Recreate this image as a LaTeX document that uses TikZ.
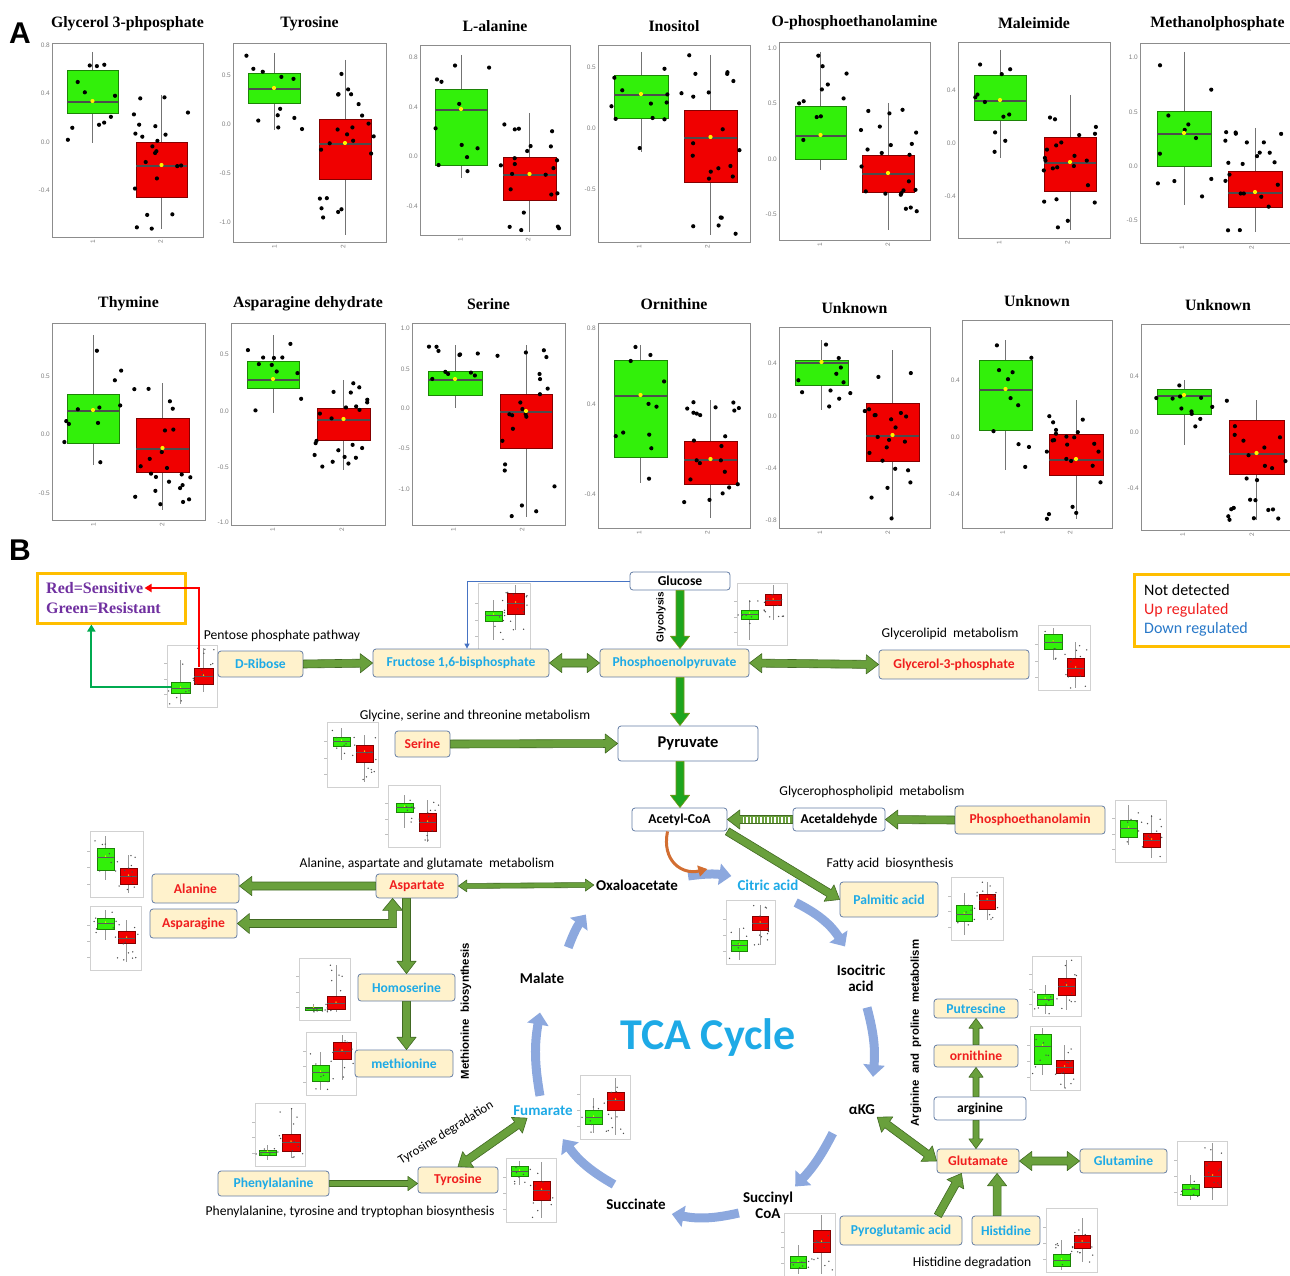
\documentclass[tikz,border=0pt]{standalone}
\usepackage{fontspec}
\setmainfont{Liberation Serif}
\newfontfamily\carl{Carlito}
\newfontfamily\ari{Liberation Sans}
\usetikzlibrary{calc,arrows.meta,positioning}

\definecolor{boxg}{RGB}{50,240,10}
\definecolor{boxr}{RGB}{240,0,0}
\definecolor{cream}{RGB}{255,242,204}
\definecolor{nodeb}{RGB}{100,125,165}
\definecolor{upred}{RGB}{240,30,30}
\definecolor{dnblue}{RGB}{30,170,230}
\definecolor{fatg}{RGB}{105,160,60}
\definecolor{fatd}{RGB}{65,105,35}
\definecolor{glyg}{RGB}{30,165,30}
\definecolor{tcab}{RGB}{140,168,222}
\definecolor{legor}{RGB}{255,190,0}
\definecolor{purp}{RGB}{112,48,160}
\definecolor{keyblue}{RGB}{40,120,200}
\definecolor{orarr}{RGB}{210,110,50}
\definecolor{linkb}{RGB}{70,115,195}
\definecolor{glegc}{RGB}{0,170,80}

\def\dotr{2.1pt}
\def\dotc{black}
% one group: whisker, box, median, jittered points, mean
\newcommand{\bxg}[9]{%
  \pgfmathsetmacro{\bxc}{(#1+#2)/2}
  \draw[whisk] (\bxc,#6) -- (\bxc,#7);
  \filldraw[fill=#8, draw=#8!55!black, line width=0.6pt] (#1,#3) rectangle (#2,#4);
  \draw[medln] (#1,#5) -- (#2,#5);
  \foreach \k in {1,...,#9}{
    \pgfmathsetmacro{\px}{#1-3+rnd*(#2-#1+6)}
    \pgfmathsetmacro{\py}{#6+rnd*(#7-#6)}
    \fill[\dotc] (\px,\py) circle[radius=\dotr];
  }
  \fill[yellow] (\bxc,#5-1) circle[radius=\dotr];
}
% panel A frame, title and axis labels
\newcommand{\apanel}[7]{%
  \draw[frm] (#2,#3) rectangle (#4,#5);
  \node[ttl] (#1) at ({(#2+#4)/2},#3-19) {#6};
  \foreach \v/\yy [count=\n] in {#7}
    \node[tck, anchor=east] (#1t\n) at (#2-1,\yy) {\v};
  \node[tck, rotate=90, anchor=east] (#1xa) at ({#2+0.27*(#4-#2)},#5+2) {1};
  \node[tck, rotate=90, anchor=east] (#1xb) at ({#2+0.72*(#4-#2)},#5+2) {2};
}
% small plot frame
\newcommand{\thumb}[4]{%
  \draw[thm] (#1,#2) rectangle (#3,#4);
  \foreach \f in {0.3,0.55,0.8}
    \draw[black!25, line width=0.4pt] (#1-3,{#2+\f*(#4-#2)}) -- (#1,{#2+\f*(#4-#2)});
}
% block arrows
\newcommand{\fatar}[3][4]{%
  \pgfmathsetmacro{\fhw}{2.4*#1}\pgfmathsetmacro{\fhl}{2.6*#1+2}
  \path ($(#3)!\fhl pt!(#2)$) coordinate (fac);
  \filldraw[fatarrow] ($(#2)!#1pt!90:(#3)$) -- ($(fac)!#1pt!90:(#3)$)
    -- ($(fac)!\fhw pt!90:(#3)$) -- (#3) -- ($(fac)!\fhw pt!-90:(#3)$)
    -- ($(fac)!#1pt!-90:(#3)$) -- ($(#2)!#1pt!-90:(#3)$) -- cycle;
}
\newcommand{\fatdbl}[3][4]{%
  \pgfmathsetmacro{\fhw}{2.4*#1}\pgfmathsetmacro{\fhl}{2.6*#1+2}
  \path ($(#3)!\fhl pt!(#2)$) coordinate (fac) ($(#2)!\fhl pt!(#3)$) coordinate (fad);
  \filldraw[fatarrow] ($(fad)!#1pt!90:(#3)$) -- ($(fac)!#1pt!90:(#3)$)
    -- ($(fac)!\fhw pt!90:(#3)$) -- (#3) -- ($(fac)!\fhw pt!-90:(#3)$)
    -- ($(fac)!#1pt!-90:(#3)$) -- ($(fad)!#1pt!-90:(#3)$) -- ($(fad)!\fhw pt!-90:(#3)$)
    -- (#2) -- ($(fad)!\fhw pt!90:(#3)$) -- cycle;
}

\begin{document}
\begin{tikzpicture}[x=1pt, y=-1pt,
  frm/.style={draw=black!45, line width=0.7pt},
  thm/.style={draw=black!18, fill=white, line width=0.5pt},
  ttl/.style={font=\rmfamily\bfseries\fontsize{15.8}{17}\selectfont},
  tck/.style={font=\ari\fontsize{6.5}{7}\selectfont, text=black!50, inner sep=1pt},
  whisk/.style={draw=black!55, line width=1pt},
  medln/.style={draw=black!70, line width=1.3pt},
  met/.style={draw=nodeb, fill=cream, rounded corners=3pt, line width=0.8pt, font=\carl\bfseries\fontsize{13.6}{15}\selectfont, inner sep=0pt},
  upmet/.style={met, text=upred},
  dnmet/.style={met, text=dnblue},
  wmet/.style={met, fill=white, text=black},
  pw/.style={font=\carl\fontsize{13.6}{15}\selectfont, inner sep=1pt},
  rot/.style={font=\ari\bfseries\fontsize{11.4}{13}\selectfont, inner sep=1pt, rotate=90},
  cyc/.style={font=\carl\bfseries\fontsize{15}{16}\selectfont, align=center, inner sep=2pt},
  legt/.style={font=\rmfamily\bfseries\fontsize{16}{18}\selectfont, text=purp, inner sep=1pt},
  keyt/.style={font=\carl\fontsize{16}{18}\selectfont, inner sep=1pt},
  legarr/.style={line width=2.2pt, -{Triangle[length=7pt,width=8pt]}},
  fatarrow/.style={fill=fatg, draw=fatd, line width=0.6pt, line join=round},
  tca/.style={draw=tcab, line width=9pt, -{Triangle[length=12pt,width=21pt]}},
  panl/.style={font=\ari\bfseries\fontsize{30}{30}\selectfont, inner sep=0pt}]
\useasboundingbox (0,0) rectangle (1290,1276);
\pgfmathsetseed{42}

%%% panel A
\node[panl] (labA) at (20,33) {A};
\apanel{a1}{52}{43}{203}{237}{Glycerol 3-phposphate}{0.8/45,0.4/93,0.0/142,-0.4/190}
\bxg{67}{118}{70}{113}{102}{52}{143}{boxg}{11}
\bxg{136}{187}{142}{197}{166}{95}{229}{boxr}{22}
\apanel{a2}{233}{43}{386}{242}{Tyrosine}{0.5/75,0.0/124,-0.5/173,-1.0/222}
\bxg{248}{300}{73}{103}{89}{53}{130}{boxg}{11}
\bxg{319}{371}{119}{179}{144}{60}{235}{boxr}{22}
\apanel{a3}{420}{45}{570}{235}{L-alanine}{0.8/57,0.4/107,0.0/156,-0.4/206}
\bxg{435}{487}{89}{165}{110}{55}{178}{boxg}{11}
\bxg{503}{556}{157}{200}{175}{113}{232}{boxr}{22}
\apanel{a4}{598}{45}{750}{242}{Inositol}{0.5/67,0.0/128,-0.5/189}
\bxg{614}{668}{75}{118}{95}{52}{152}{boxg}{11}
\bxg{684}{737}{110}{182}{138}{55}{235}{boxr}{22}
\apanel{a5}{779}{42}{930}{240}{O-phosphoethanolamine}{1.0/48,0.5/103,0.0/159,-0.5/214}
\bxg{795}{846}{106}{159}{136}{52}{170}{boxg}{11}
\bxg{862}{914}{155}{192}{174}{103}{230}{boxr}{22}
\apanel{a6}{958}{42}{1110}{238}{Maleimide}{0.4/90,0.0/143,-0.4/196}
\bxg{974}{1026}{75}{120}{101}{50}{158}{boxg}{11}
\bxg{1044}{1096}{137}{191}{163}{95}{230}{boxr}{22}
\apanel{a7}{1140}{43}{1295}{243}{Methanolphosphate}{1.0/57,0.5/112,0.0/166,-0.5/220}
\bxg{1157}{1211}{111}{166}{134}{52}{205}{boxg}{11}
\bxg{1228}{1282}{171}{207}{193}{128}{232}{boxr}{22}

\apanel{b1}{52}{323}{205}{520}{Thymine}{0.5/376,0.0/434,-0.5/493}
\bxg{67}{119}{394}{443}{411}{335}{465}{boxg}{11}
\bxg{136}{189}{418}{472}{449}{383}{510}{boxr}{22}
\apanel{b2}{231}{323}{385}{525}{Asparagine dehydrate}{0.5/354,0.0/411,-0.5/467,-1.0/522}
\bxg{247}{299}{361}{388}{380}{335}{413}{boxg}{11}
\bxg{317}{370}{408}{440}{420}{380}{470}{boxr}{22}
\apanel{b3}{412}{323}{565}{525}{Serine}{1.0/328,0.5/369,0.0/408,-0.5/448,-1.0/489}
\bxg{428}{482}{371}{395}{380}{345}{408}{boxg}{11}
\bxg{500}{552}{394}{448}{412}{345}{517}{boxr}{22}
\apanel{b4}{598}{323}{750}{528}{Ornithine}{0.8/328,0.4/404,-0.4/494}
\bxg{614}{667}{360}{457}{396}{345}{483}{boxg}{11}
\bxg{684}{737}{441}{484}{460}{400}{518}{boxr}{22}
\apanel{b5}{779}{327}{930}{528}{Unknown}{0.4/363,0.0/416,-0.4/468,-0.8/520}
\bxg{795}{848}{360}{385}{363}{340}{410}{boxg}{11}
\bxg{866}{919}{403}{461}{436}{350}{520}{boxr}{22}
\apanel{b6}{962}{320}{1112}{528}{Unknown}{0.4/380,0.0/437,-0.4/494}
\bxg{979}{1032}{360}{430}{390}{340}{470}{boxg}{11}
\bxg{1049}{1103}{434}{475}{460}{400}{519}{boxr}{22}
\apanel{b7}{1141}{324}{1295}{530}{Unknown}{0.4/376,0.0/432,-0.4/488}
\bxg{1157}{1211}{389}{414}{396}{380}{445}{boxg}{11}
\bxg{1229}{1284}{420}{474}{454}{400}{520}{boxr}{22}

%%% panel B
\node[panl] (labB) at (20,550) {B};

% small plots
\begin{scope}[whisk/.style={draw=black!40, line width=0.5pt}, medln/.style={draw=black!65, line width=0.6pt}]
\def\dotr{0.75pt}\def\dotc{black!70}
\thumb{167}{645}{217}{707}
\bxg{171}{190}{682}{693}{688}{660}{704}{boxg}{7}\bxg{194}{213}{668}{684}{676}{648}{692}{boxr}{12}
\thumb{478}{583}{530}{650}
\bxg{485}{502}{611}{621}{615}{600}{640}{boxg}{7}\bxg{507}{524}{593}{614}{603}{585}{630}{boxr}{14}
\thumb{737}{583}{787}{645}
\bxg{741}{758}{610}{619}{614}{600}{640}{boxg}{7}\bxg{765}{781}{594}{605}{600}{585}{620}{boxr}{12}
\thumb{1038}{625}{1090}{690}
\bxg{1044}{1062}{634}{649}{642}{628}{660}{boxg}{7}\bxg{1067}{1084}{658}{676}{668}{642}{688}{boxr}{12}
\thumb{327}{722}{378}{787}
\bxg{333}{350}{737}{746}{741}{728}{760}{boxg}{7}\bxg{356}{373}{745}{762}{752}{735}{782}{boxr}{12}
\thumb{388}{785}{440}{847}
\bxg{396}{413}{803}{812}{807}{795}{828}{boxg}{7}\bxg{419}{436}{813}{831}{822}{800}{842}{boxr}{12}
\thumb{90}{831}{143}{897}
\bxg{97}{114}{848}{870}{857}{836}{880}{boxg}{7}\bxg{120}{137}{868}{884}{876}{855}{893}{boxr}{12}
\thumb{90}{906}{141}{970}
\bxg{97}{114}{918}{929}{923}{910}{940}{boxg}{7}\bxg{118}{135}{931}{943}{938}{920}{962}{boxr}{12}
\thumb{726}{900}{775}{964}
\bxg{731}{747}{940}{951}{945}{928}{960}{boxg}{7}\bxg{752}{768}{916}{930}{923}{905}{945}{boxr}{12}
\thumb{951}{877}{1003}{940}
\bxg{956}{972}{905}{921}{914}{893}{935}{boxg}{7}\bxg{979}{995}{894}{909}{900}{882}{920}{boxr}{12}
\thumb{1115}{800}{1166}{862}
\bxg{1120}{1137}{820}{837}{828}{805}{845}{boxg}{7}\bxg{1143}{1160}{833}{847}{840}{815}{858}{boxr}{12}
\thumb{299}{958}{350}{1020}
\bxg{305}{322}{1007}{1010}{1008}{1004}{1012}{boxg}{6}\bxg{327}{345}{996}{1009}{1003}{965}{1012}{boxr}{12}
\thumb{306}{1032}{356}{1095}
\bxg{312}{329}{1065}{1081}{1072}{1052}{1090}{boxg}{7}\bxg{333}{351}{1042}{1059}{1051}{1035}{1080}{boxr}{12}
\thumb{255}{1103}{305}{1166}
\bxg{259}{276}{1150}{1155}{1152}{1145}{1160}{boxg}{6}\bxg{282}{300}{1134}{1151}{1142}{1108}{1158}{boxr}{12}
\thumb{580}{1075}{630}{1139}
\bxg{585}{602}{1110}{1124}{1117}{1098}{1133}{boxg}{7}\bxg{607}{624}{1092}{1110}{1100}{1078}{1135}{boxr}{12}
\thumb{506}{1158}{556}{1222}
\bxg{511}{528}{1166}{1176}{1171}{1161}{1185}{boxg}{7}\bxg{533}{550}{1181}{1200}{1190}{1162}{1218}{boxr}{12}
\thumb{1032}{956}{1081}{1016}
\bxg{1037}{1053}{994}{1005}{999}{985}{1014}{boxg}{7}\bxg{1058}{1075}{978}{995}{986}{960}{1010}{boxr}{12}
\thumb{1030}{1026}{1080}{1090}
\bxg{1034}{1051}{1034}{1064}{1046}{1028}{1075}{boxg}{7}\bxg{1056}{1073}{1060}{1073}{1067}{1045}{1088}{boxr}{12}
\thumb{1177}{1141}{1227}{1205}
\bxg{1182}{1199}{1184}{1195}{1189}{1175}{1200}{boxg}{7}\bxg{1204}{1221}{1161}{1187}{1176}{1143}{1200}{boxr}{12}
\thumb{784}{1213}{835}{1276}
\bxg{790}{806}{1256}{1268}{1262}{1245}{1274}{boxg}{7}\bxg{813}{830}{1230}{1252}{1242}{1215}{1274}{boxr}{12}
\thumb{1046}{1208}{1097}{1272}
\bxg{1053}{1070}{1254}{1266}{1260}{1240}{1270}{boxg}{7}\bxg{1074}{1090}{1235}{1248}{1242}{1218}{1262}{boxr}{12}
\end{scope}

% legends
\node[draw=legor, line width=3pt, minimum width=148, minimum height=50, inner sep=0] (leg) at (111,598) {};
\node[legt, anchor=west] (sens) at (45,588) {Red=Sensitive};
\node[legt, anchor=west] (resis) at (45,608) {Green=Resistant};
\node[draw=legor, line width=2.5pt, minimum width=170, minimum height=72, inner sep=0, anchor=north west] (key) at (1133,573) {};
\node[keyt, anchor=west] (knd) at (1143,590) {Not detected};
\node[keyt, anchor=west, text=upred] (kup) at (1143,610) {Up regulated};
\node[keyt, anchor=west, text=keyblue] (kdn) at (1143,629) {Down regulated};
\coordinate (t1r) at (199,667);
\coordinate (t1g) at (171,687);
\path ($(leg.south west)!0.37!(leg.south east)$) coordinate (legx);
\draw[legarr, draw=red] (t1r) |- (sens.east);
\draw[legarr, draw=glegc] (t1g) -| (legx);

% metabolites
\node[dnmet, minimum width=85, minimum height=26] (dribose) at (260.5,664) {D-Ribose};
\node[dnmet, minimum width=176, minimum height=28] (fru) at (461,663) {Fructose 1,6-bisphosphate};
\node[dnmet, minimum width=149, minimum height=28] (pep) at (674.5,663) {Phosphoenolpyruvate};
\node[upmet, minimum width=150, minimum height=29] (g3p) at (954,664.5) {Glycerol-3-phosphate};
\node[wmet, minimum width=100, minimum height=18] (glucose) at (680,581) {Glucose};
\node[wmet, minimum width=140, minimum height=35, font=\carl\bfseries\fontsize{16.5}{18}\selectfont] (pyruvate) at (688,743.5) {Pyruvate};
\node[upmet, minimum width=55, minimum height=26] (serine) at (422.5,744) {Serine};
\node[wmet, minimum width=95, minimum height=23] (acoa) at (679.5,819.5) {Acetyl-CoA};
\node[wmet, minimum width=92, minimum height=23] (acald) at (839,819.5) {Acetaldehyde};
\node[upmet, minimum width=150, minimum height=28] (pethan) at (1030,820) {Phosphoethanolamin};
\node[dnmet, minimum width=98, minimum height=35] (palm) at (889,899.5) {Palmitic acid};
\node[upmet, minimum width=82, minimum height=24] (aspartate) at (417,886) {Aspartate};
\node[upmet, minimum width=87, minimum height=29] (alanine) at (195.5,888.5) {Alanine};
\node[upmet, minimum width=87, minimum height=29] (asparagine) at (193.5,923.5) {Asparagine};
\node[dnmet, minimum width=97, minimum height=27] (homoserine) at (406.5,987.5) {Homoserine};
\node[dnmet, minimum width=98, minimum height=27] (methionine) at (404,1063.5) {methionine};
\node[dnmet, minimum width=84, minimum height=19] (putrescine) at (976,1008.5) {Putrescine};
\node[upmet, minimum width=84, minimum height=22] (ornithine) at (976,1056) {ornithine};
\node[wmet, minimum width=92, minimum height=23] (arginine) at (980,1108.5) {arginine};
\node[upmet, minimum width=82, minimum height=24] (glutamate) at (978,1161) {Glutamate};
\node[dnmet, minimum width=87, minimum height=24] (glutamine) at (1123.5,1161) {Glutamine};
\node[dnmet, minimum width=122, minimum height=29] (pyroglu) at (901,1230.5) {Pyroglutamic acid};
\node[dnmet, minimum width=68, minimum height=29] (histidine) at (1006,1230.5) {Histidine};
\node[upmet, minimum width=80, minimum height=26] (tyrosine) at (458,1180) {Tyrosine};
\node[dnmet, minimum width=111, minimum height=25] (phenyl) at (273.5,1183.5) {Phenylalanine};

% TCA cycle members
\node[cyc] (oxalo) at (637,885) {Oxaloacetate};
\node[cyc, text=dnblue] (citric) at (768,885) {Citric acid};
\node[cyc] (isocitric) at (861,978) {Isocitric\\acid};
\node[cyc] (akg) at (862,1110) {αKG};
\node[cyc] (succoa) at (768,1205) {Succinyl\\CoA};
\node[cyc] (succinate) at (636,1204) {Succinate};
\node[cyc, text=dnblue] (fumarate) at (543,1111) {Fumarate};
\node[cyc] (malate) at (542,978) {Malate};
\node[font=\carl\bfseries\fontsize{44}{46}\selectfont, text=dnblue] (tcatitle) at (708,1038) {TCA Cycle};

% pathway names
\node[pw] (ppp) at (282,636) {Pentose phosphate pathway};
\node[pw] (glipid) at (950,634) {Glycerolipid\ \ metabolism};
\node[pw] (gst) at (475,716) {Glycine, serine and threonine metabolism};
\node[pw] (gpl) at (872,792) {Glycerophospholipid\ \ metabolism};
\node[pw] (fab) at (890,864) {Fatty acid\ \ biosynthesis};
\node[pw] (aag) at (427,864) {Alanine, aspartate and glutamate\ \ metabolism};
\node[pw] (ptt) at (350,1212) {Phenylalanine,\ tyrosine and tryptophan biosynthesis};
\node[pw] (hisdeg) at (972,1263) {Histidine degradation};
\node[pw, rotate=32, font=\carl\fontsize{12.8}{14}\selectfont] (tyrdeg) at (446,1133) {Tyrosine degradation};
\node[rot, font=\ari\bfseries\fontsize{10}{12}\selectfont] (glyc) at (661,617) {Glycolysis};
\node[rot] (metbio) at (466,1011) {Methionine\ \ biosynthesis};
\node[rot] (argpro) at (916,1033) {Arginine\ \ and\ \ proline\ \ metabolism};

% connectors
\draw[linkb, line width=0.9pt, -{Triangle[length=5pt,width=5pt]}] (glucose.west) -| ($(fru.north)+(6,0)$);
\fatar{dribose.east}{fru.west}
\fatdbl{fru.east}{pep.west}
\fatdbl{pep.east}{g3p.west}
\begin{scope}[fatarrow/.style={fill=glyg, draw=fatd!70!yellow, line width=0.6pt, line join=round}]
\fatar{glucose.south}{glucose.south |- pep.north}
\fatar{glucose.south |- pep.south}{glucose.south |- pyruvate.north}
\fatar{glucose.south |- pyruvate.south}{glucose.south |- acoa.north}
\end{scope}
\fatar{serine.east}{pyruvate.west}
\fatar{pethan.west}{acald.east}
\fatar{acald.west}{acoa.east}
% striped shaft
\draw[white, line width=6pt, dash pattern=on 1.3pt off 2.2pt] ($(acald.west)+(-3,0)$) -- ($(acoa.east)+(16,0)$);
\fatar{acoa.south east}{palm.west}
\fatar{aspartate.west}{alanine.east |- aspartate.west}
\fatdbl[2.5]{aspartate.east}{oxalo.west}
\fatar{homoserine.north |- aspartate.south}{homoserine.north}
\fatar{homoserine.south}{homoserine.south |- methionine.north}
\fatar[3]{phenyl.east}{tyrosine.west |- phenyl.east}
\fatdbl{tyrosine.north}{$(fumarate.south west)!0.25!(fumarate.south east)$}
\fatdbl{akg.south east}{glutamate.west}
\fatdbl{glutamate.east}{glutamine.west}
\fatar[3]{ornithine.south |- arginine.north}{ornithine.south}
\fatar[3]{ornithine.north}{putrescine.south}
\fatar[3]{ornithine.south |- arginine.south}{ornithine.south |- glutamate.north}
\fatar{$(pyroglu.north)!0.6!(pyroglu.north east)$}{$(glutamate.south west)!0.3!(glutamate.south east)$}
\path ($(histidine.north west)!0.37!(histidine.north east)$) coordinate (hisn);
\fatar{hisn}{hisn |- glutamate.south}
\path ($(aspartate.south west)+(17,0)$) coordinate (aspin);
\filldraw[fatarrow] (asparagine.east) -- ++(12,-10) -- ++(0,6)
  -- ($(asparagine.east -| aspin)+(-4,-4)$) -- ($(aspin)+(-4,12)$) -- ++(-6,0) -- (aspin)
  -- ++(10,12) -- ++(-6,0) -- ($(asparagine.east -| aspin)+(4,4)$)
  -- ($(asparagine.east)+(12,4)$) -- ++(0,6) -- cycle;

% TCA arrows
\draw[tca] ($(oxalo.east)+(8,-9)$) to[bend left=8] ($(citric.west)+(-4,-9)$);
\draw[tca] ($(citric.south east)+(-5,10)$) to[bend left=15] ($(isocitric.north)+(-16,-16)$);
\draw[tca] ($(isocitric.south)+(6,14)$) to[bend left=10] ($(akg.north)+(11,-26)$);
\draw[tca] ($(akg.south west)+(-14,16)$) to[bend left=8] ($(succoa.north east)+(0,-3)$);
\draw[tca] ($(succoa.west)+(-2,8)$) to[bend left=12] ($(succinate.east)+(4,10)$);
\draw[tca] ($(succinate.north)+(-22,-12)$) to[bend left=12] ($(fumarate.south east)+(-12,21)$);
\draw[tca] ($(fumarate.north)+(-3,-8)$) to[bend left=10] ($(malate.south)+(-2,27)$);
\draw[tca] ($(malate.north east)+(2,-23)$) to[bend left=8] ($(oxalo.south west)+(-8,22)$);
\coordinate (orend) at ($(citric.west)+(-28,-16)$);
\draw[orarr, line width=3pt, -{Triangle[length=9pt,width=11pt]}] ($(acoa.south)+(-12,0)$) .. controls +(-6,30) and +(-25,6) .. (orend);
\end{tikzpicture}
\end{document}
